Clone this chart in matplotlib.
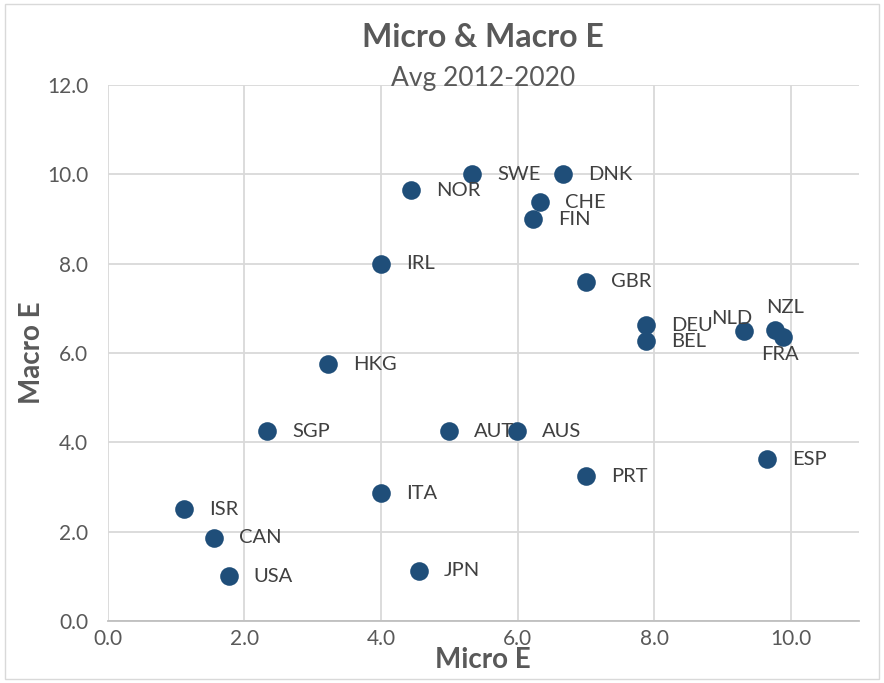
import matplotlib.pyplot as plt
from matplotlib.patches import Rectangle

plt.rcParams['font.family'] = ['Lato', 'DejaVu Sans']

# data (Micro E, Macro E)
countries = ['SWE', 'DNK', 'NOR', 'CHE', 'FIN', 'IRL', 'GBR', 'DEU', 'BEL', 'NLD',
             'NZL', 'FRA', 'HKG', 'SGP', 'AUT', 'AUS', 'ESP', 'PRT', 'ITA', 'ISR',
             'CAN', 'USA', 'JPN']
micro = [5.33, 6.66, 4.44, 6.33, 6.22, 4.0, 7.0, 7.88, 7.88, 9.31,
         9.77, 9.88, 3.22, 2.33, 5.0, 5.99, 9.65, 7.0, 4.0, 1.11,
         1.55, 1.77, 4.55]
macro = [10.0, 10.0, 9.64, 9.37, 9.0, 8.0, 7.6, 6.62, 6.26, 6.49,
         6.51, 6.35, 5.75, 4.25, 4.25, 4.25, 3.62, 3.24, 2.86, 2.5,
         1.86, 1.0, 1.12]

# label placement for the crowded points (offset in points, ha, va)
special = {'NLD': ((-9, 3), 'center', 'bottom'),
           'NZL': ((7, 10), 'center', 'bottom'),
           'FRA': ((-2, -6), 'center', 'top')}

grey = '#595959'
fig = plt.figure(figsize=(8.84, 6.83), dpi=100)
fig.patches.append(Rectangle((0.006, 0.006), 0.988, 0.988, transform=fig.transFigure,
                             fill=False, edgecolor='#D9D9D9', linewidth=1))
ax = fig.add_axes([0.122, 0.0908, 0.85, 0.7847])

ax.scatter(micro, macro, s=180, color='#1F4E79', zorder=3, linewidths=0)
for name, x, y in zip(countries, micro, macro):
    if name in special:
        off, ha, va = special[name]
    else:
        off, ha, va = (18, 0), 'left', 'center'
    ax.annotate(name, (x, y), xytext=off, textcoords='offset points',
                ha=ha, va=va, fontsize=14.5, color='#404040', zorder=4)

ax.set_xlim(0, 11)
ax.set_ylim(0, 12)
ax.set_xticks([0, 2, 4, 6, 8, 10])
ax.set_yticks([0, 2, 4, 6, 8, 10, 12])
ax.xaxis.set_major_formatter(lambda v, p: f'{v:.1f}')
ax.yaxis.set_major_formatter(lambda v, p: f'{v:.1f}')
ax.tick_params(length=0, labelsize=15, labelcolor=grey)
ax.tick_params(axis='y', pad=14)
ax.tick_params(axis='x', pad=6)
ax.grid(True, color='#D9D9D9', linewidth=1.3)
ax.set_axisbelow(True)
for s in ['top', 'right', 'left']:
    ax.spines[s].set_visible(False)
ax.spines['bottom'].set_color('#BFBFBF')
ax.spines['bottom'].set_linewidth(1.3)

fig.text(0.546, 0.945, 'Micro & Macro E', ha='center', va='center',
         fontsize=23, fontweight='bold', color=grey)
fig.text(0.546, 0.885, 'Avg 2012-2020', ha='center', va='center',
         fontsize=19, color=grey)
fig.text(0.546, 0.033, 'Micro E', ha='center', va='center',
         fontsize=20, fontweight='bold', color=grey)
fig.text(0.036, 0.483, 'Macro E', ha='center', va='center', rotation=90,
         fontsize=20, fontweight='bold', color=grey)

plt.savefig('out.png', dpi=100)
